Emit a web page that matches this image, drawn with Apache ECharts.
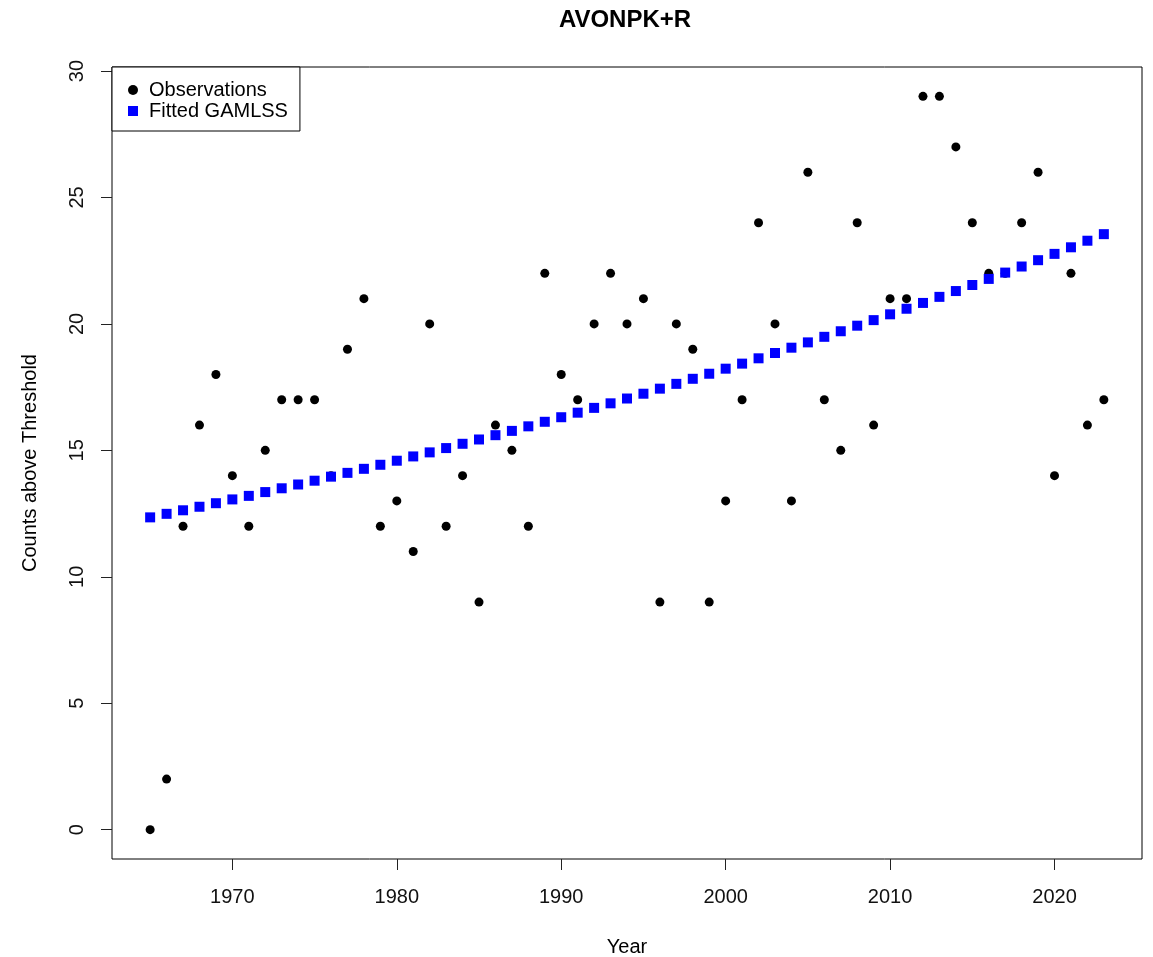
<!DOCTYPE html>
<html>
<head>
<meta charset="utf-8">
<script src="https://cdn.jsdelivr.net/npm/echarts@6/dist/echarts.min.js"></script>
<style>
html,body{margin:0;padding:0;background:#fff;}
#chart{width:1153px;height:957px;}
</style>
</head>
<body>
<div id="chart"></div>
<script>
const years = [1965,1966,1967,1968,1969,1970,1971,1972,1973,1974,1975,1976,1977,1978,1979,
  1980,1981,1982,1983,1984,1985,1986,1987,1988,1989,1990,1991,1992,1993,1994,1995,1996,1997,1998,1999,
  2000,2001,2002,2003,2004,2005,2006,2007,2008,2009,2010,2011,2012,2013,2014,2015,2016,2017,2018,2019,
  2020,2021,2022,2023];
const observations = [0,2,12,16,18,14,12,15,17,17,17,14,19,21,12,
  13,11,20,12,14,9,16,15,12,22,18,17,20,22,20,21,9,20,19,9,
  13,17,24,20,13,26,17,15,24,16,21,21,29,29,27,24,22,22,24,26,
  14,22,16,17];
const fitted = [12.35,12.49,12.63,12.77,12.91,13.06,13.20,13.35,13.50,13.65,
  13.80,13.96,14.11,14.27,14.43,14.59,14.76,14.92,15.09,15.26,
  15.43,15.60,15.77,15.95,16.13,16.31,16.49,16.68,16.86,17.05,
  17.24,17.44,17.63,17.83,18.03,18.23,18.43,18.64,18.85,19.06,
  19.27,19.49,19.71,19.93,20.15,20.38,20.60,20.83,21.07,21.30,
  21.54,21.78,22.03,22.27,22.52,22.77,23.03,23.29,23.55];
const xTicks = [1970,1980,1990,2000,2010,2020];
const yTicks = [0,5,10,15,20,25,30];
const titleText = 'AVONPK+R';
const xName = 'Year';
const yName = 'Counts above Threshold';
const seriesNames = ['Observations','Fitted GAMLSS'];

const FONT = '"Liberation Sans", Arial, sans-serif';
const chart = echarts.init(document.getElementById('chart'), null, {renderer:'canvas'});
const option = {
  animation: false,
  backgroundColor: '#ffffff',
  textStyle: {fontFamily: FONT},
  title: {
    text: titleText,
    left: 625,
    top: 8,
    padding: 0,
    textAlign: 'center',
    textStyle: {fontFamily: FONT, fontWeight: 'bold', fontSize: 24, color: '#000'}
  },
  grid: {
    left: 112, top: 67, width: 1030, height: 792,
    outerBoundsMode: 'none',
    containLabel: false,
    show: true, borderColor: '#000', borderWidth: 1, backgroundColor: 'transparent'
  },
  legend: {
    orient: 'vertical',
    left: 112, top: 67,
    padding: [13, 12, 10, 16],
    itemGap: 1,
    itemWidth: 10, itemHeight: 10,
    borderColor: '#000', borderWidth: 1, backgroundColor: '#fff',
    textStyle: {fontFamily: FONT, fontSize: 20, color: '#000', padding: [0,0,0,6], lineHeight: 20},
    data: [
      {name: seriesNames[0], icon: 'circle'},
      {name: seriesNames[1], icon: 'rect'}
    ]
  },
  xAxis: {
    type: 'value',
    min: 1962.68, max: 2025.32,
    name: xName, nameLocation: 'middle', nameGap: 78,
    nameTextStyle: {fontFamily: FONT, fontSize: 20, color: '#000'},
    axisLine: {show: false, onZero: false},
    splitLine: {show: false},
    axisTick: {show: true, length: 11, lineStyle: {color: '#222'}, customValues: xTicks},
    axisLabel: {fontFamily: FONT, fontSize: 20, color: '#111', margin: 28, customValues: xTicks,
      formatter: v => String(v)}
  },
  yAxis: {
    type: 'value',
    min: -1.16, max: 30.16,
    name: yName, nameLocation: 'middle', nameGap: 72, nameRotate: 90,
    nameTextStyle: {fontFamily: FONT, fontSize: 20, color: '#000'},
    axisLine: {show: false, onZero: false},
    splitLine: {show: false},
    axisTick: {show: true, length: 11, lineStyle: {color: '#222'}, customValues: yTicks},
    axisLabel: {fontFamily: FONT, fontSize: 20, color: '#111', margin: 25, rotate: 90, customValues: yTicks,
      formatter: v => String(v)}
  },
  series: [
    {
      name: seriesNames[0],
      type: 'scatter',
      symbol: 'circle',
      symbolSize: 9,
      itemStyle: {color: '#000', opacity: 1},
      data: years.map((y, i) => [y, observations[i]])
    },
    {
      name: seriesNames[1],
      type: 'scatter',
      symbol: 'rect',
      symbolSize: 10,
      itemStyle: {color: '#0000ff', opacity: 1},
      data: years.map((y, i) => [y, fitted[i]])
    }
  ]
};
chart.setOption(option);
</script>
</body>
</html>
